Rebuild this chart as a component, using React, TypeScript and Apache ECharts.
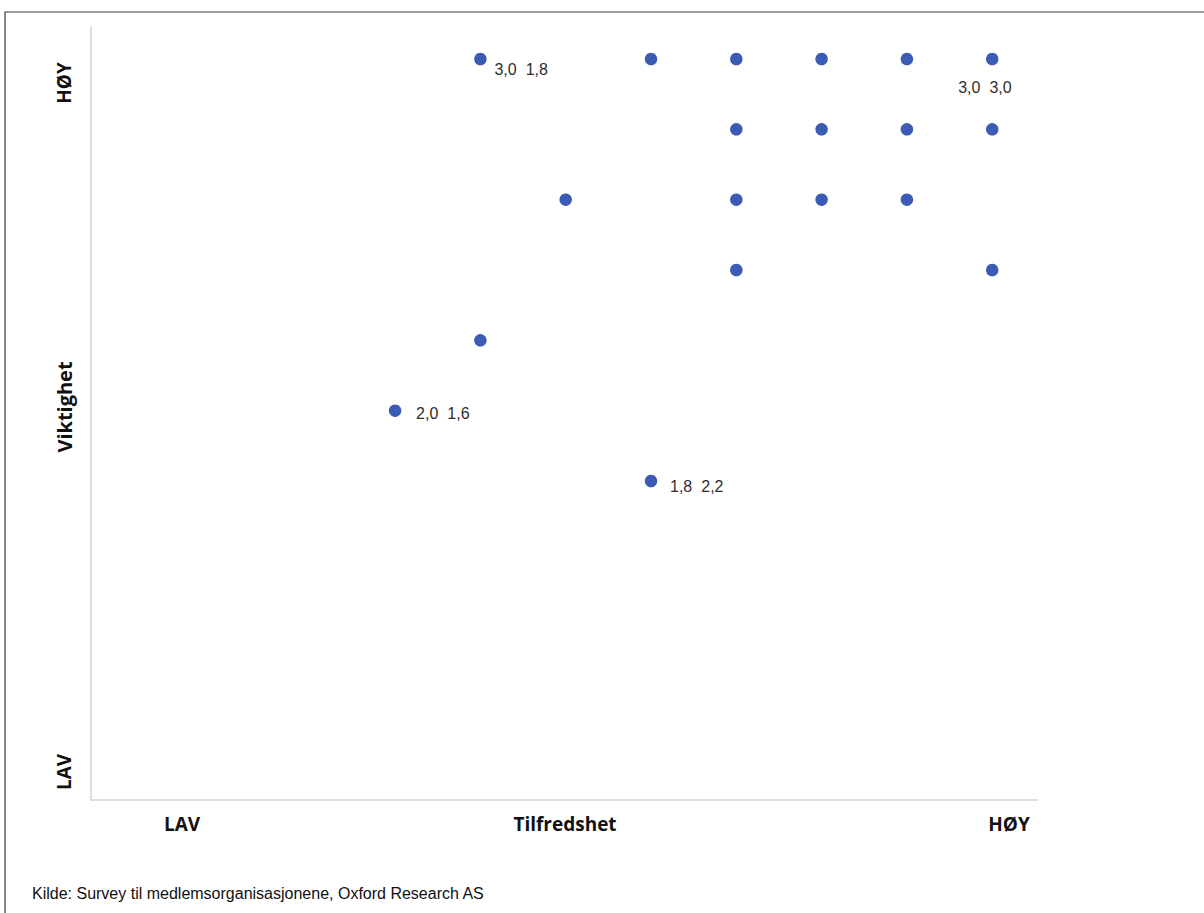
import React, { useEffect, useRef } from "react";
import * as echarts from "echarts";

// Satisfaction (x) and importance (y) per item
const tilfredshet = [1.8, 2.2, 2.4, 2.6, 2.8, 3.0, 2.4, 2.6, 2.8, 3.0, 2.0, 2.4, 2.6, 2.8, 2.4, 3.0, 1.8, 1.6, 2.2];
const viktighet = [3.0, 3.0, 3.0, 3.0, 3.0, 3.0, 2.8, 2.8, 2.8, 2.8, 2.6, 2.6, 2.6, 2.6, 2.4, 2.4, 2.2, 2.0, 1.8];
// which points carry a data label
const labelled = [0, 5, 17, 18];

const xAxisLabels = ["LAV", "Tilfredshet", "HØY"];
const yAxisLabels = ["LAV", "Viktighet", "HØY"];
const source = "Kilde: Survey til medlemsorganisasjonene, Oxford Research AS";

const fmt = (v: number) => v.toFixed(1).replace(".", ",");

export default function App() {
  const ref = useRef<HTMLDivElement>(null);
  useEffect(() => {
    document.body.style.margin = "0";
    const chart = echarts.init(ref.current!, undefined, { renderer: "svg" });
    const labelOffsets: Record<number, number[]> = {
      0: [14, 10],
      5: [-34, 28],
      17: [21, 3],
      18: [19, 5],
    };
    const data = tilfredshet.map((x, i) => {
      const item: any = { value: [x, viktighet[i]] };
      if (labelled.includes(i)) {
        item.label = {
          show: true,
          position: "inside",
          align: "left",
          verticalAlign: "middle",
          offset: labelOffsets[i],
          formatter: (p: any) => `{v|${fmt(p.value[1])}}{g|}{v|${fmt(p.value[0])}}`,
          rich: {
            v: { fontFamily: "Liberation Sans", fontSize: 16, color: "#2e2e2e" },
            g: { width: 9 },
          },
        };
      }
      return item;
    });
    const boldText = {
      fontFamily: "Open Sans",
      fontWeight: "bold",
      fontSize: 19,
      fill: "#111",
    };
    chart.setOption({
      animation: false,
      backgroundColor: "#fff",
      grid: { left: 91, top: 27, width: 946, height: 773, containLabel: false },
      xAxis: {
        type: "value",
        min: 0.887,
        max: 3.105,
        axisLine: { show: true, onZero: false, lineStyle: { color: "#d4d4d4", width: 1.5 } },
        axisTick: { show: false },
        axisLabel: { show: false },
        splitLine: { show: false },
      },
      yAxis: {
        type: "value",
        min: 0.893,
        max: 3.091,
        axisLine: { show: true, onZero: false, lineStyle: { color: "#d4d4d4", width: 1.5 } },
        axisTick: { show: false },
        axisLabel: { show: false },
        splitLine: { show: false },
      },
      series: [
        {
          type: "scatter",
          symbol: "circle",
          symbolSize: 12.5,
          itemStyle: { color: "#3b5bb4", opacity: 1 },
          data,
        },
      ],
      graphic: [
        {
          type: "rect",
          shape: { x: 5, y: 12, width: 1300, height: 1000 },
          style: { fill: "none", stroke: "#3a3a3a", lineWidth: 1.2 },
          silent: true,
        },
        { type: "text", x: 182, y: 824, style: { ...boldText, text: xAxisLabels[0], align: "center", verticalAlign: "middle" } },
        { type: "text", x: 565, y: 824, style: { ...boldText, text: xAxisLabels[1], align: "center", verticalAlign: "middle" } },
        { type: "text", x: 1009, y: 824, style: { ...boldText, text: xAxisLabels[2], align: "center", verticalAlign: "middle" } },
        { type: "text", x: 64, y: 772, rotation: Math.PI / 2, style: { ...boldText, text: yAxisLabels[0], align: "center", verticalAlign: "middle" } },
        { type: "text", x: 64, y: 407, rotation: Math.PI / 2, style: { ...boldText, fontSize: 20, text: yAxisLabels[1], align: "center", verticalAlign: "middle" } },
        { type: "text", x: 64, y: 83, rotation: Math.PI / 2, style: { ...boldText, text: yAxisLabels[2], align: "center", verticalAlign: "middle" } },
        {
          type: "text",
          x: 32,
          y: 893,
          style: { text: source, fontFamily: "Liberation Sans", fontSize: 16, fill: "#111", align: "left", verticalAlign: "middle" },
        },
      ],
    });
    return () => chart.dispose();
  }, []);
  return <div ref={ref} style={{ width: 1204, height: 913 }} />;
}
